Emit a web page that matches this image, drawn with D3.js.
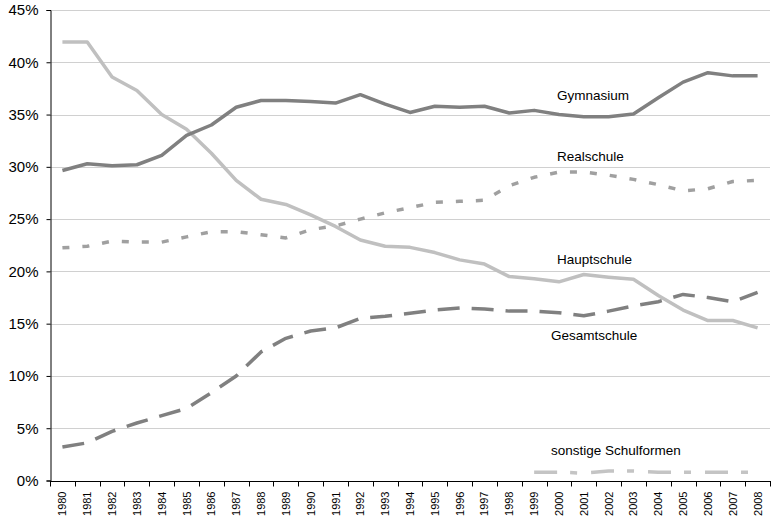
<!DOCTYPE html>
<html><head><meta charset="utf-8">
<script src="https://cdn.jsdelivr.net/npm/d3@7"></script>
<style>body{margin:0;background:#fff}svg{display:block}</style>
</head><body>
<svg id="c" width="772" height="521"></svg>
<script>
const years = d3.range(1980, 2009).map(String);
const gymnasium = [29.65,30.3,30.1,30.2,31.1,33.0,34.0,35.7,36.35,36.35,36.25,36.1,36.9,36.0,35.2,35.8,35.7,35.8,35.15,35.4,35.0,34.8,34.8,35.05,36.6,38.1,39.0,38.7,38.7];
const realschule = [22.25,22.4,22.9,22.8,22.8,23.3,23.8,23.8,23.5,23.2,24.0,24.35,25.0,25.6,26.1,26.6,26.7,26.8,28.2,29.0,29.5,29.5,29.2,28.8,28.3,27.7,27.9,28.6,28.7];
const hauptschule = [41.95,41.95,38.6,37.3,35.0,33.6,31.3,28.7,26.9,26.4,25.4,24.3,23.0,22.4,22.3,21.8,21.1,20.7,19.5,19.3,19.0,19.7,19.45,19.25,17.7,16.3,15.3,15.3,14.6];
const gesamtschule = [3.2,3.6,4.7,5.5,6.2,6.9,8.4,10.0,12.3,13.6,14.3,14.6,15.5,15.7,16.0,16.3,16.5,16.4,16.2,16.2,16.05,15.75,16.2,16.7,17.1,17.8,17.5,17.1,18.0];
const sonstige = [null,null,null,null,null,null,null,null,null,null,null,null,null,null,null,null,null,null,null,0.8,0.8,0.7,0.9,0.9,0.8,0.8,0.8,0.8,0.8];
const yTicks = [0,5,10,15,20,25,30,35,40,45];
const seriesNames = ["Gymnasium","Realschule","Hauptschule","Gesamtschule","sonstige Schulformen"];

const svg = d3.select("#c");
const L = 50, R = 770, T = 10, B = 480.5;
const x = d3.scaleBand().domain(years).range([L, R]).padding(0);
const y = d3.scaleLinear().domain([0, 45]).range([B, T]);
const cx = d => x(d) + x.bandwidth() / 2;

// grid
svg.append("g").selectAll("line").data(yTicks.filter(t => t > 0)).join("line")
  .attr("x1", L).attr("x2", R)
  .attr("y1", d => Math.round(y(d)) + 0.5).attr("y2", d => Math.round(y(d)) + 0.5)
  .attr("stroke", "#d0d0d0").attr("stroke-width", 1);

// y axis
const yAxis = svg.append("g").attr("transform", `translate(${L + 0.5},0)`)
  .call(d3.axisLeft(y).tickValues(yTicks).tickFormat(d => d + "%").tickSize(4).tickPadding(8));
yAxis.select(".domain").attr("stroke", "#000");
yAxis.selectAll(".tick line").attr("stroke", "#000");
yAxis.selectAll("text").attr("font-family", "Liberation Sans, Arial, sans-serif").attr("font-size", 15).attr("fill", "#000");

// x axis
const xg = svg.append("g").attr("transform", `translate(0,${Math.round(B) + 0.5})`);
xg.append("line").attr("x1", L).attr("x2", R + 1).attr("stroke", "#000");
const bounds = years.map(d => x(d)).concat([R]);
xg.selectAll("line.tk").data(bounds).join("line").attr("class", "tk")
  .attr("x1", d => Math.round(d) + 0.5).attr("x2", d => Math.round(d) + 0.5)
  .attr("y1", 0).attr("y2", 5).attr("stroke", "#000");
xg.selectAll("text").data(years).join("text")
  .attr("transform", d => `translate(${cx(d) + 4},10) rotate(-90)`)
  .attr("text-anchor", "end")
  .attr("font-family", "Liberation Sans, Arial, sans-serif").attr("font-size", 11).attr("fill", "#000")
  .text(d => d);

// lines
const line = d3.line().defined(d => d[1] != null).x(d => cx(d[0])).y(d => y(d[1]));
const series = [
  {v: hauptschule, c: "#c0c0c0", dash: null},
  {v: realschule, c: "#a0a0a0", dash: "7,13"},
  {v: gesamtschule, c: "#808080", dash: "22,12"},
  {v: gymnasium, c: "#808080", dash: null},
  {v: sonstige, c: "#c4c4c4", dash: "23,13,7,14"}
];
series.forEach(s => {
  svg.append("path").datum(years.map((yr, i) => [yr, s.v[i]]))
    .attr("d", line).attr("fill", "none").attr("stroke", s.c)
    .attr("stroke-width", 3.5).attr("stroke-dasharray", s.dash)
    .attr("stroke-linejoin", "round");
});

// labels
const labels = [
  {t: seriesNames[0], x: 557, y: 100},
  {t: seriesNames[1], x: 557, y: 161},
  {t: seriesNames[2], x: 557, y: 264},
  {t: seriesNames[3], x: 551, y: 340},
  {t: seriesNames[4], x: 551, y: 455}
];
svg.append("g").selectAll("text").data(labels).join("text")
  .attr("x", d => d.x).attr("y", d => d.y)
  .attr("font-family", "Liberation Sans, Arial, sans-serif").attr("font-size", 13.5).attr("fill", "#000")
  .text(d => d.t);
</script>
</body></html>
